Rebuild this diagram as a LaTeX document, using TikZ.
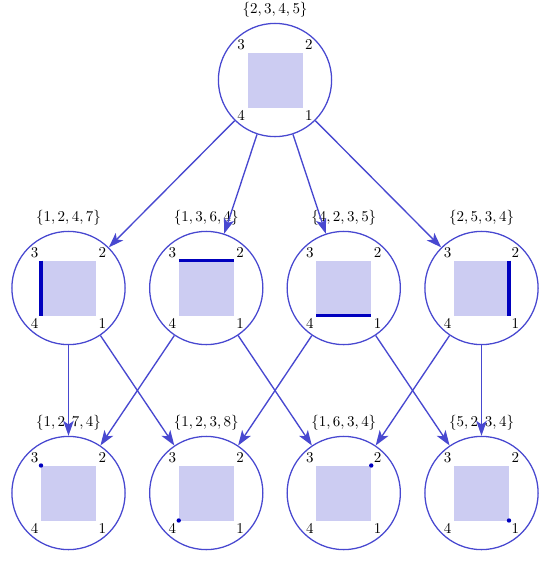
\documentclass[tikz,border=0pt]{standalone}
\usetikzlibrary{arrows.meta}
\definecolor{ringc}{RGB}{72,72,208}
\definecolor{sqfill}{RGB}{204,204,242}
\definecolor{barc}{RGB}{0,0,190}
\tikzset{
  ring/.style={circle, draw=ringc, line width=0.85pt, minimum size=75.5pt, inner sep=0pt},
  edge/.style={draw=ringc, line width=0.9pt, -{Stealth[length=10pt, width=7pt, inset=2.5pt]}},
  cornerlab/.style={inner sep=1.5pt, font=\normalsize},
  barline/.style={draw=barc, line width=2.6pt},
  dotmark/.style={fill=barc},
}
\newcommand\cellsq[3]{%
  \begin{scope}[shift={(#2,#3)}]
    \fill[sqfill] (-27.5,-27.5) rectangle (27.5,27.5);
    \coordinate (#1-3) at (-27.5,-27.5);
    \coordinate (#1-2) at (27.5,-27.5);
    \coordinate (#1-4) at (-27.5,27.5);
    \coordinate (#1-1) at (27.5,27.5);
    \node[cornerlab, anchor=south east] (#1-l3) at (#1-3) {3};
    \node[cornerlab, anchor=south west] (#1-l2) at (#1-2) {2};
    \node[cornerlab, anchor=north east] (#1-l4) at (#1-4) {4};
    \node[cornerlab, anchor=north west] (#1-l1) at (#1-1) {1};
  \end{scope}}
\begin{document}
\begin{tikzpicture}[x=0.6667pt, y=-0.6667pt]
\useasboundingbox (0,0) rectangle (550,562);
% top
\node[ring, label=above:{$\{2,3,4,5\}$}] (t) at (275,80) {};
\cellsq{t}{275}{80}
% middle row
\node[ring, label=above:{$\{1,2,4,7\}$}] (m1) at (68.5,288) {};
\node[ring, label=above:{$\{1,3,6,4\}$}] (m2) at (206.25,288) {};
\node[ring, label=above:{$\{4,2,3,5\}$}] (m3) at (343.75,288) {};
\node[ring, label=above:{$\{2,5,3,4\}$}] (m4) at (481.5,288) {};
\cellsq{m1}{68.5}{288}
\cellsq{m2}{206.25}{288}
\cellsq{m3}{343.75}{288}
\cellsq{m4}{481.5}{288}
\draw[barline] (m1-3) -- (m1-4);
\draw[barline] (m2-3) -- (m2-2);
\draw[barline] (m3-4) -- (m3-1);
\draw[barline] (m4-2) -- (m4-1);
% bottom row
\node[ring, label=above:{$\{1,2,7,4\}$}] (b1) at (68.5,493) {};
\node[ring, label=above:{$\{1,2,3,8\}$}] (b2) at (206.25,493) {};
\node[ring, label=above:{$\{1,6,3,4\}$}] (b3) at (343.75,493) {};
\node[ring, label=above:{$\{5,2,3,4\}$}] (b4) at (481.5,493) {};
\cellsq{b1}{68.5}{493}
\cellsq{b2}{206.25}{493}
\cellsq{b3}{343.75}{493}
\cellsq{b4}{481.5}{493}
\fill[dotmark] (b1-3) circle (1.45pt);
\fill[dotmark] (b2-4) circle (1.45pt);
\fill[dotmark] (b3-2) circle (1.45pt);
\fill[dotmark] (b4-1) circle (1.45pt);
% edges
\draw[edge] (t) -- (m1);
\draw[edge] (t) -- (m2);
\draw[edge] (t) -- (m3);
\draw[edge] (t) -- (m4);
\draw[edge] (m1) -- (b1);
\draw[edge] (m1) -- (b2);
\draw[edge] (m2) -- (b1);
\draw[edge] (m2) -- (b3);
\draw[edge] (m3) -- (b2);
\draw[edge] (m3) -- (b4);
\draw[edge] (m4) -- (b3);
\draw[edge] (m4) -- (b4);
\end{tikzpicture}
\end{document}
